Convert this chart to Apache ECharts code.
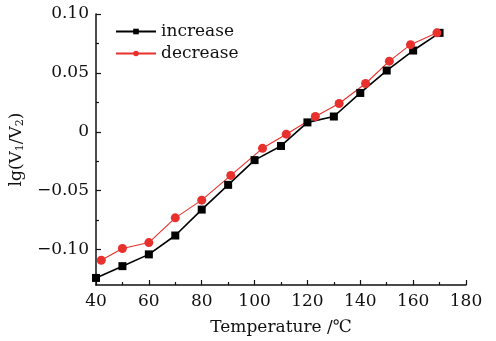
<!DOCTYPE html>
<html>
<head>
<meta charset="utf-8">
<script src="https://cdn.jsdelivr.net/npm/echarts@6/dist/echarts.min.js"></script>
<style>
  html, body { margin: 0; padding: 0; background: #fff; }
  #chart { width: 496px; height: 341px; }
</style>
</head>
<body>
<div id="chart"></div>
<script>
// temperature (°C) for each curve
const incTemp = [40, 50, 60, 70, 80, 90, 100, 110, 120, 130, 140, 150, 160, 170];
const decTemp = [42, 50, 60, 70, 80, 91, 103, 112, 123, 132, 142, 151, 159, 169];
// lg(V1/V2)
const incVals = [-0.124, -0.114, -0.104, -0.088, -0.066, -0.045, -0.024, -0.012, 0.008, 0.013, 0.033, 0.052, 0.069, 0.084];
const decVals = [-0.109, -0.099, -0.094, -0.073, -0.058, -0.037, -0.014, -0.002, 0.013, 0.024, 0.041, 0.060, 0.074, 0.084];
// y ticks (axis starts at -0.13, so ticks are listed explicitly)
const yMajor = [-0.10, -0.05, 0, 0.05, 0.10];
const yMinor = [-0.125, -0.075, -0.025, 0.025, 0.075];

const serif = '"DejaVu Serif", "Liberation Serif", serif';
const axisColor = '#111';
const fs = 17;

const chart = echarts.init(document.getElementById('chart'));

const yBase = {
    type: 'value',
    min: -0.13,
    max: 0.10,
    position: 'left',
    splitLine: { show: false },
};

chart.setOption({
    backgroundColor: '#fff',
    animation: false,
    grid: { left: 95, top: 14, right: 30, bottom: 49 },
    legend: {
        orient: 'vertical',
        left: 110,
        top: 18,
        itemWidth: 40,
        itemHeight: 7,
        itemGap: 5,
        textStyle: { fontFamily: serif, fontSize: fs, color: '#111' },
        data: ['increase', 'decrease'],
    },
    xAxis: {
        type: 'value',
        min: 40,
        max: 180,
        interval: 20,
        name: 'Temperature /℃',
        nameLocation: 'middle',
        nameGap: 34,
        nameTextStyle: { fontFamily: serif, fontSize: fs, color: '#111' },
        axisLine: { onZero: false, lineStyle: { color: axisColor, width: 1.5 } },
        axisTick: { inside: true, length: 5, lineStyle: { color: axisColor, width: 1.2 } },
        minorTick: { show: true, splitNumber: 2, length: 3, lineStyle: { color: axisColor, width: 1.2 } },
        axisLabel: { fontFamily: serif, fontSize: fs, color: '#111', margin: 8 },
        splitLine: { show: false },
    },
    yAxis: [
        {
            ...yBase,
            name: '{n|lg(V}{s|1}{n|/V}{s|2}{n|)}',
            nameLocation: 'middle',
            nameGap: 53,
            nameTextStyle: {
                rich: {
                    n: { fontFamily: serif, fontSize: fs, color: '#111' },
                    s: { fontFamily: serif, fontSize: 11, color: '#111', verticalAlign: 'bottom', padding: [8, 0, 0, 0] },
                },
            },
            axisLine: { onZero: false, lineStyle: { color: axisColor, width: 1.5 } },
            axisTick: { inside: true, length: 5, customValues: yMajor, lineStyle: { color: axisColor, width: 1.2 } },
            axisLabel: {
                fontFamily: serif, fontSize: fs, color: '#111', margin: 7,
                customValues: yMajor,
                formatter: v => (Math.abs(v) < 1e-9 ? '0' : v.toFixed(2).replace('-', '−')),
            },
        },
        {
            ...yBase,
            axisLine: { show: false },
            axisTick: { inside: true, length: 3, customValues: yMinor, lineStyle: { color: axisColor, width: 1.2 } },
            axisLabel: { show: false },
        },
    ],
    series: [
        {
            name: 'increase',
            type: 'line',
            data: incTemp.map((t, i) => [t, incVals[i]]),
            symbol: 'rect',
            symbolSize: 8,
            lineStyle: { color: '#000', width: 1.6 },
            itemStyle: { color: '#000' },
        },
        {
            name: 'decrease',
            type: 'line',
            data: decTemp.map((t, i) => [t, decVals[i]]),
            symbol: 'circle',
            symbolSize: 9,
            lineStyle: { color: '#e8302c', width: 1.1 },
            itemStyle: { color: '#e8302c' },
        },
    ],
});
</script>
</body>
</html>
